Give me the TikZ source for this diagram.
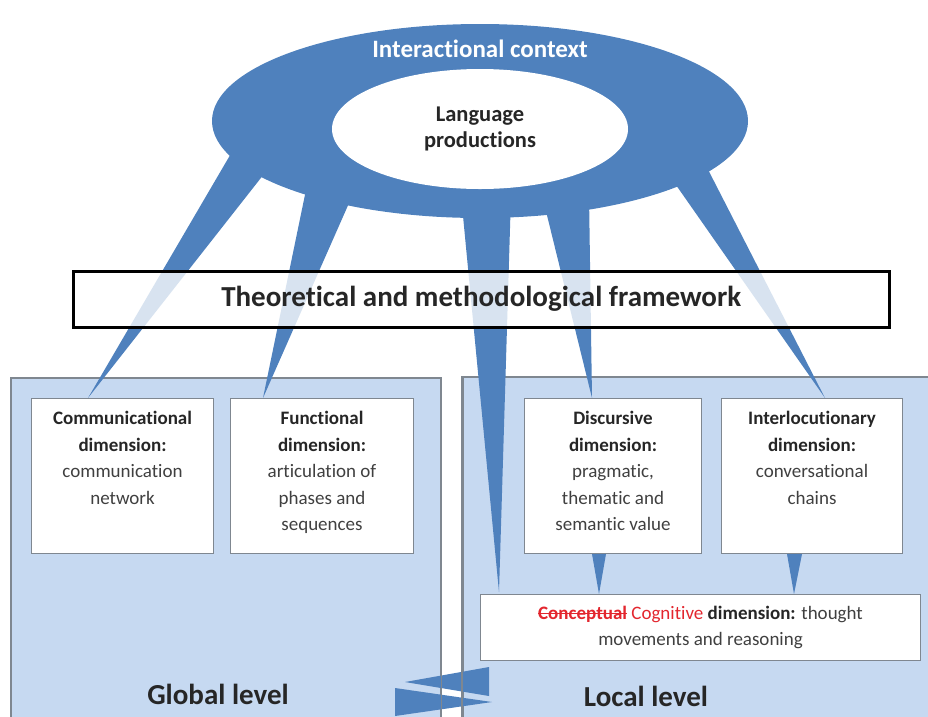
\documentclass[tikz,border=0pt]{standalone}
\usepackage{fontspec}
\setmainfont{Carlito}[Ligatures={NoCommon,TeX}]
\usetikzlibrary{shapes.geometric,positioning,calc}
\definecolor{CTXBLUE}{HTML}{4F81BD}
\definecolor{PANEL}{HTML}{C6D9F1}
\definecolor{EDGE}{HTML}{7F8790}
\definecolor{TXT}{HTML}{404040}
\definecolor{TITLE}{HTML}{262626}
\definecolor{STRIKE}{HTML}{E3262E}
\newcommand{\dimtitle}[1]{\textbf{\color{TITLE}#1}}
\newcommand{\strikeout}[1]{\setbox0\hbox{#1}\rlap{\rule[0.26em]{\wd0}{1.3pt}}\box0\relax}
\tikzset{
    panel/.style={draw=EDGE, line width=1.5pt, fill=PANEL, anchor=north west, inner sep=0pt},
    dimbox/.style={draw=EDGE, line width=1pt, fill=white, anchor=north west,
        minimum width=#1, minimum height=155pt, inner sep=0pt},
    dimtext/.style={text=TXT, align=center, inner sep=0pt, font=\fontsize{19}{26.5}\selectfont},
    leg/.style={fill=CTXBLUE},
    levellabel/.style={font=\bfseries\fontsize{29}{32}\selectfont, text=TITLE},
}
\begin{document}
\begin{tikzpicture}[x=1pt,y=-1pt]
    \useasboundingbox (0,0) rectangle (928,716);
    \clip (0,0) rectangle (928,716);

    % levels
    \node[panel, minimum width=430pt, minimum height=360pt] (GLOB) at (10,377) {};
    \node[panel, minimum width=480pt, minimum height=360pt] (LOC) at (462,376) {};
    \node[levellabel] (GLOBT) at (218,694) {Global level};
    \node[levellabel] (LOCT) at (646,696) {Local level};

    % exchange between levels
    \fill[leg] (489,667) -- (489,696) -- (405,682) -- cycle;
    \fill[leg] (395,688) -- (395,716) -- (492,702) -- cycle;
    \draw[EDGE, line width=1.5pt] (GLOB.north east) -- (GLOB.south east);
    \draw[EDGE, line width=1.5pt] (LOC.north west) -- (LOC.south west);

    % dimensions
    \node[dimbox=182pt] (COMM) at (31,398) {};
    \node[dimbox=183pt] (FUNC) at (230,398) {};
    \node[dimbox=177pt] (DISC) at (524,398) {};
    \node[dimbox=181pt] (INTER) at (721,398) {};
    \node[dimtext, below=13pt of COMM.north] (COMMT)
        {\dimtitle{Communicational}\\\dimtitle{dimension:}\\communication\\network};
    \node[dimtext, below=13pt of FUNC.north] (FUNCT)
        {\dimtitle{Functional}\\\dimtitle{dimension:}\\articulation of\\phases and\\sequences};
    \node[dimtext, below=13pt of DISC.north] (DISCT)
        {\dimtitle{Discursive}\\\dimtitle{dimension:}\\pragmatic,\\thematic and\\semantic value};
    \node[dimtext, below=13pt of INTER.north] (INTERT)
        {\dimtitle{Interlocutionary}\\\dimtitle{dimension:}\\conversational\\chains};

    \node[draw=EDGE, line width=1pt, fill=white, anchor=north west, minimum width=440pt,
        minimum height=66pt, inner sep=0pt] (COG) at (480,594) {};
    \node[dimtext] (COGT) at (COG.center)
        {{\color{STRIKE}\strikeout{\textbf{Conceptual}} Cognitive} \dimtitle{dimension:} thought\\movements and reasoning};

    % wedges down to the cognitive dimension
    \fill[leg] ($(DISC.south west)+(68,0)$) -- ($(DISC.south west)+(82,0)$) -- ($(COG.north west)+(119,0)$) -- cycle;
    \fill[leg] ($(INTER.south west)+(66,0)$) -- ($(INTER.south west)+(81,0)$) -- ($(COG.north west)+(314,0)$) -- cycle;

    % legs of the context
    \coordinate (L1a) at (236,145); \coordinate (L1b) at (275,160);
    \coordinate (L2a) at (307,185); \coordinate (L2b) at (357,185);
    \coordinate (L3a) at (461,195); \coordinate (L3b) at (511,195);
    \coordinate (L4a) at (542,195); \coordinate (L4b) at (589,195);
    \coordinate (L5a) at (662,165); \coordinate (L5b) at (698,150);
    \coordinate (T1) at ($(COMM.north west)+(57,0)$);
    \coordinate (T2) at ($(FUNC.north west)+(33,0)$);
    \coordinate (T3) at ($(COG.north west)+(19,-2)$);
    \coordinate (T4) at ($(DISC.north west)+(68,0)$);
    \coordinate (T5) at ($(INTER.north west)+(104,0)$);
    \foreach \a/\b/\t in {L1a/L1b/T1,L2a/L2b/T2,L3a/L3b/T3,L4a/L4b/T4,L5a/L5b/T5}{
        \fill[leg] (\a) -- (\b) -- (\t) -- cycle;
    }

    % context
    \node[ellipse, fill=CTXBLUE, minimum width=536pt, minimum height=194pt, inner sep=0pt] (CTX) at (480,121) {};
    \node[font=\bfseries\fontsize{25}{28}\selectfont, text=white] (CTXT) at (480,49) {Interactional context};
    \node[ellipse, fill=white, minimum width=296pt, minimum height=120pt, inner sep=0pt, align=center,
        font=\bfseries\fontsize{22.5}{26}\selectfont, text=TITLE] (LANG) at (480,129) {Language\\productions};

    % framework
    \node[draw=black, line width=2.5pt, fill=white, fill opacity=0.78, text opacity=1, anchor=north west,
        minimum width=816pt, minimum height=56pt, inner sep=0pt,
        font=\bfseries\fontsize{29}{32}\selectfont, text=TITLE] (FRAME) at (72,270) {Theoretical and methodological framework};
\end{tikzpicture}
\end{document}
